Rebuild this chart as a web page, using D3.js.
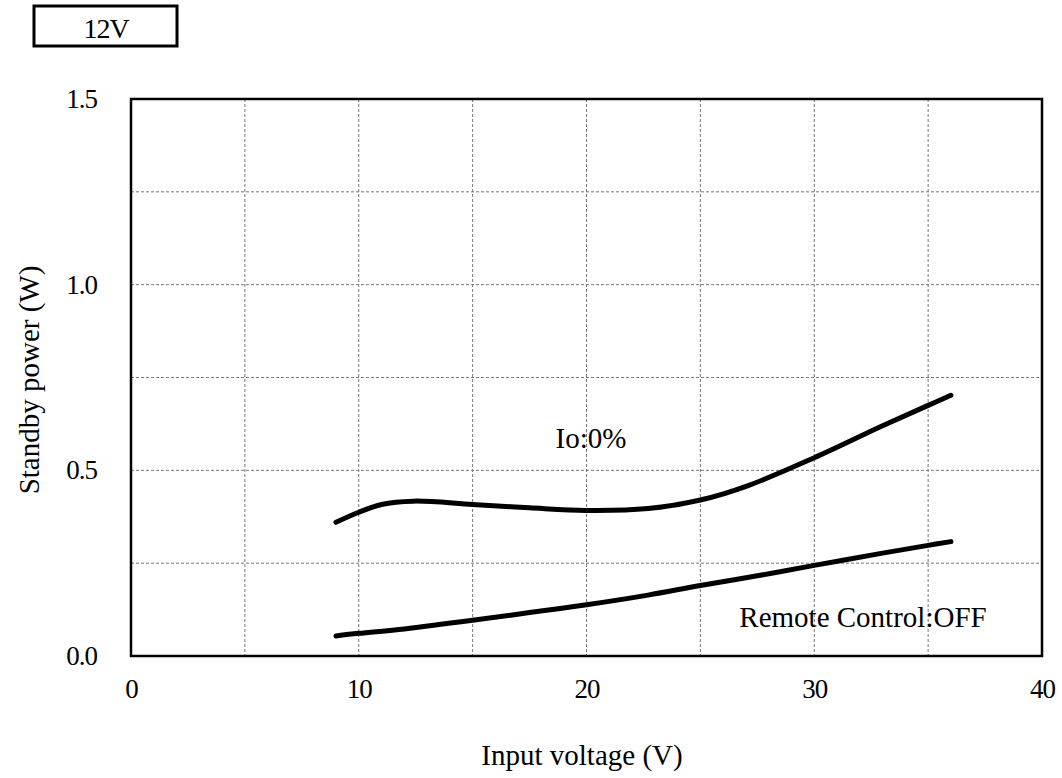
<!DOCTYPE html>
<html>
<head>
<meta charset="utf-8">
<script src="https://cdn.jsdelivr.net/npm/d3@7/dist/d3.min.js"></script>
<style>
  html, body { margin: 0; padding: 0; background: #fff; }
  svg { display: block; font-family: "Liberation Serif", "Times New Roman", serif; }
</style>
</head>
<body>
<svg id="chart" width="1062" height="778"></svg>
<script>
// Input voltage (V) sample points
const voltageNoLoad = [9, 10, 11, 12.4, 15, 17.5, 20, 22.7, 25, 27.1, 30, 33, 35, 36];
// Standby power (W) at Io:0%
const powerNoLoad = [0.360, 0.387, 0.408, 0.417, 0.408, 0.399, 0.392, 0.397, 0.420, 0.459, 0.534, 0.620, 0.675, 0.702];

const voltageRemoteOff = [9, 10, 12, 15, 17.5, 20, 22.7, 25, 27.5, 30, 33, 35, 36];
// Standby power (W) with remote control off
const powerRemoteOff = [0.054, 0.061, 0.073, 0.096, 0.117, 0.138, 0.164, 0.190, 0.216, 0.244, 0.277, 0.298, 0.308];

const xTickValues = [0, 10, 20, 30, 40];
const xGridValues = [5, 10, 15, 20, 25, 30, 35];
const yTickValues = [0, 0.5, 1.0, 1.5];
const yGridValues = [0.25, 0.5, 0.75, 1.0, 1.25];

const svg = d3.select("#chart");
const plot = { left: 131, right: 1042, top: 99, bottom: 656 };

const x = d3.scaleLinear().domain([0, 40]).range([plot.left, plot.right]);
const y = d3.scaleLinear().domain([0, 1.5]).range([plot.bottom, plot.top]);

// dashed grid
const grid = svg.append("g").attr("stroke", "#777").attr("stroke-width", 1).attr("stroke-dasharray", "3,2");
grid.selectAll("line.v").data(xGridValues).join("line").attr("class", "v")
  .attr("x1", d => x(d)).attr("x2", d => x(d)).attr("y1", plot.top).attr("y2", plot.bottom);
grid.selectAll("line.h").data(yGridValues).join("line").attr("class", "h")
  .attr("x1", plot.left).attr("x2", plot.right).attr("y1", d => y(d)).attr("y2", d => y(d));

// frame
svg.append("rect").attr("x", plot.left).attr("y", plot.top)
  .attr("width", plot.right - plot.left).attr("height", plot.bottom - plot.top)
  .attr("fill", "none").attr("stroke", "#000").attr("stroke-width", 2.5);

// axes (labels only)
const xAxis = d3.axisBottom(x).tickValues(xTickValues).tickFormat(d3.format("d")).tickSize(0).tickPadding(23);
const gx = svg.append("g").attr("transform", `translate(0,${plot.bottom})`).call(xAxis);
gx.select(".domain").remove();
gx.selectAll("text").attr("font-size", 27).attr("font-family", "Liberation Serif")
  .attr("letter-spacing", -1).attr("fill", "#000");

const yAxis = d3.axisLeft(y).tickValues(yTickValues).tickFormat(d3.format(".1f")).tickSize(0).tickPadding(34);
const gy = svg.append("g").attr("transform", `translate(${plot.left},0)`).call(yAxis);
gy.select(".domain").remove();
gy.selectAll("text").attr("font-size", 27).attr("font-family", "Liberation Serif")
  .attr("letter-spacing", -1).attr("fill", "#000");

// curves
const line = d3.line().x(d => x(d[0])).y(d => y(d[1])).curve(d3.curveCatmullRom.alpha(0.5));
const series = [
  d3.zip(voltageNoLoad, powerNoLoad),
  d3.zip(voltageRemoteOff, powerRemoteOff)
];
svg.append("g").selectAll("path").data(series).join("path")
  .attr("d", line).attr("fill", "none").attr("stroke", "#000")
  .attr("stroke-width", 5).attr("stroke-linecap", "round").attr("stroke-linejoin", "round");

// curve labels
svg.append("text").attr("x", 591).attr("y", 448).attr("text-anchor", "middle")
  .attr("font-size", 29).text("Io:0%");
svg.append("text").attr("x", 863).attr("y", 627).attr("text-anchor", "middle")
  .attr("font-size", 29).text("Remote Control:OFF");

// axis titles
svg.append("text").attr("x", 582).attr("y", 765).attr("text-anchor", "middle")
  .attr("font-size", 29).text("Input voltage (V)");
svg.append("text").attr("transform", `translate(39,380) rotate(-90)`)
  .attr("text-anchor", "middle").attr("font-size", 29).text("Standby power (W)");

// voltage tag
svg.append("rect").attr("x", 34).attr("y", 6).attr("width", 143).attr("height", 40)
  .attr("fill", "#fff").attr("stroke", "#000").attr("stroke-width", 3);
svg.append("text").attr("x", 106).attr("y", 38).attr("text-anchor", "middle")
  .attr("font-size", 28).attr("letter-spacing", -1).text("12V");
</script>
</body>
</html>
